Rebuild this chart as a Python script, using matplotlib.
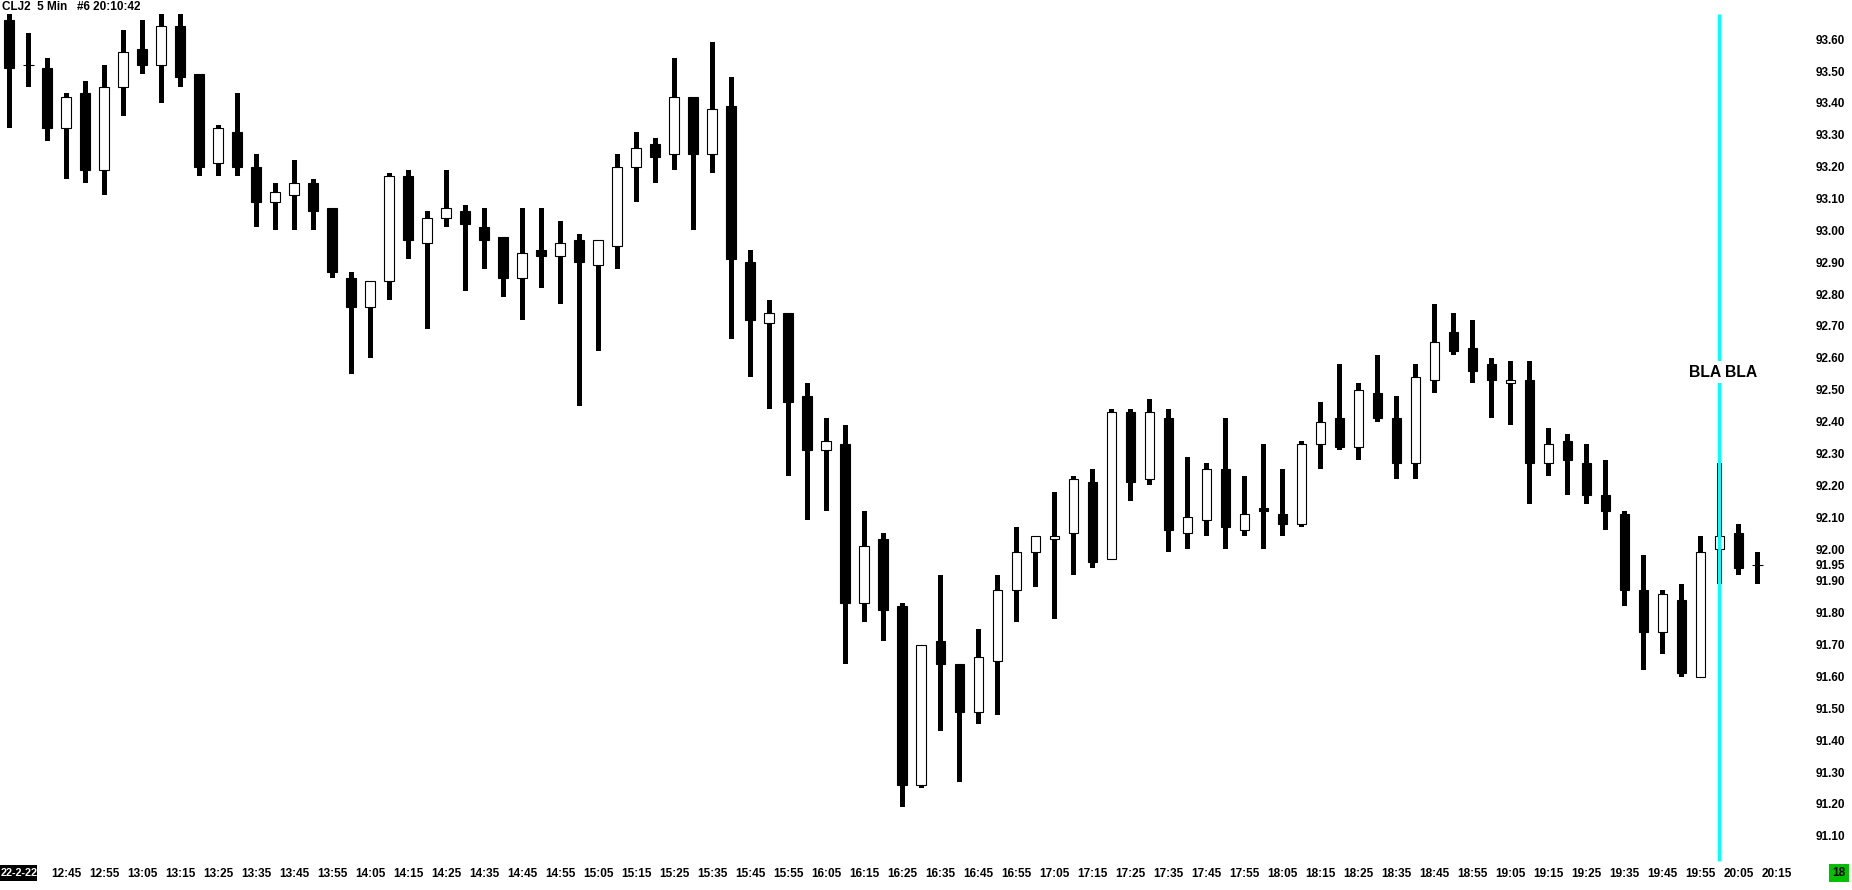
import numpy as np
import matplotlib.pyplot as plt
from matplotlib.patches import Rectangle

plt.rcParams["font.family"] = ["Liberation Sans", "DejaVu Sans"]
plt.rcParams["font.weight"] = "bold"

# CLJ2 5-minute bars, first bar at 12:30
first_bar = "12:30"
bar_minutes = 5

opens = [93.66, 93.52, 93.51, 93.32, 93.43, 93.19, 93.45, 93.57, 93.52, 93.64,
         93.49, 93.21, 93.31, 93.20, 93.09, 93.11, 93.15, 93.07, 92.85, 92.76,
         92.84, 93.17, 92.96, 93.04, 93.06, 93.01, 92.98, 92.85, 92.94, 92.92,
         92.97, 92.89, 92.95, 93.20, 93.27, 93.24, 93.42, 93.24, 93.39, 92.90,
         92.71, 92.74, 92.48, 92.31, 92.33, 91.83, 92.03, 91.82, 91.26, 91.71,
         91.64, 91.49, 91.65, 91.87, 91.99, 92.03, 92.05, 92.21, 91.97, 92.43,
         92.22, 92.41, 92.05, 92.09, 92.25, 92.06, 92.13, 92.11, 92.08, 92.33,
         92.41, 92.32, 92.49, 92.41, 92.27, 92.53, 92.68, 92.63, 92.58, 92.52,
         92.53, 92.27, 92.34, 92.27, 92.17, 92.11, 91.87, 91.74, 91.84, 91.60,
         92.00, 92.05, 91.95]
highs = [93.68, 93.62, 93.54, 93.43, 93.47, 93.52, 93.63, 93.66, 93.68, 93.68,
         93.49, 93.33, 93.43, 93.24, 93.15, 93.22, 93.16, 93.07, 92.87, 92.84,
         93.18, 93.19, 93.06, 93.19, 93.08, 93.07, 92.98, 93.07, 93.07, 93.03,
         92.99, 92.97, 93.24, 93.31, 93.29, 93.54, 93.42, 93.59, 93.48, 92.94,
         92.78, 92.74, 92.52, 92.41, 92.39, 92.12, 92.05, 91.83, 91.70, 91.92,
         91.64, 91.75, 91.92, 92.07, 92.04, 92.18, 92.23, 92.25, 92.44, 92.44,
         92.47, 92.44, 92.29, 92.27, 92.41, 92.23, 92.33, 92.25, 92.34, 92.46,
         92.58, 92.52, 92.61, 92.48, 92.58, 92.77, 92.74, 92.72, 92.60, 92.59,
         92.59, 92.38, 92.36, 92.33, 92.28, 92.12, 91.98, 91.87, 91.89, 92.04,
         92.27, 92.08, 91.99]
lows = [93.32, 93.45, 93.28, 93.16, 93.15, 93.11, 93.36, 93.49, 93.40, 93.45,
        93.17, 93.17, 93.17, 93.01, 93.00, 93.00, 93.00, 92.85, 92.55, 92.60,
        92.78, 92.91, 92.69, 93.01, 92.81, 92.88, 92.79, 92.72, 92.82, 92.77,
        92.45, 92.62, 92.88, 93.09, 93.15, 93.19, 93.00, 93.18, 92.66, 92.54,
        92.44, 92.23, 92.09, 92.12, 91.64, 91.77, 91.71, 91.19, 91.25, 91.43,
        91.27, 91.45, 91.48, 91.77, 91.88, 91.78, 91.92, 91.94, 91.97, 92.15,
        92.20, 91.99, 92.00, 92.04, 92.00, 92.04, 92.00, 92.04, 92.07, 92.25,
        92.31, 92.28, 92.40, 92.22, 92.22, 92.49, 92.61, 92.52, 92.41, 92.39,
        92.14, 92.23, 92.17, 92.14, 92.06, 91.82, 91.62, 91.67, 91.60, 91.60,
        91.89, 91.92, 91.89]
closes = [93.51, 93.52, 93.32, 93.42, 93.19, 93.45, 93.56, 93.52, 93.64, 93.48,
          93.20, 93.32, 93.20, 93.09, 93.12, 93.15, 93.06, 92.87, 92.76, 92.84,
          93.17, 92.97, 93.04, 93.07, 93.02, 92.97, 92.85, 92.93, 92.92, 92.96,
          92.90, 92.97, 93.20, 93.26, 93.23, 93.42, 93.24, 93.38, 92.91, 92.72,
          92.74, 92.46, 92.31, 92.34, 91.83, 92.01, 91.81, 91.26, 91.70, 91.64,
          91.49, 91.66, 91.87, 91.99, 92.04, 92.04, 92.22, 91.96, 92.43, 92.21,
          92.43, 92.06, 92.10, 92.25, 92.07, 92.11, 92.12, 92.08, 92.33, 92.40,
          92.32, 92.50, 92.41, 92.27, 92.54, 92.65, 92.62, 92.56, 92.53, 92.53,
          92.27, 92.33, 92.28, 92.17, 92.12, 91.87, 91.74, 91.86, 91.61, 91.99,
          92.04, 91.94, 91.95]

price_labels = ["93.60", "93.50", "93.40", "93.30", "93.20", "93.10", "93.00",
                "92.90", "92.80", "92.70", "92.60", "92.50", "92.40", "92.30",
                "92.20", "92.10", "92.00", "91.95", "91.90", "91.80", "91.70",
                "91.60", "91.50", "91.40", "91.30", "91.20", "91.10"]
time_labels = ["12:45", "12:55", "13:05", "13:15", "13:25", "13:35", "13:45",
               "13:55", "14:05", "14:15", "14:25", "14:35", "14:45", "14:55",
               "15:05", "15:15", "15:25", "15:35", "15:45", "15:55", "16:05",
               "16:15", "16:25", "16:35", "16:45", "16:55", "17:05", "17:15",
               "17:25", "17:35", "17:45", "17:55", "18:05", "18:15", "18:25",
               "18:35", "18:45", "18:55", "19:05", "19:15", "19:25", "19:35",
               "19:45", "19:55", "20:05", "20:15"]

title = "CLJ2  5 Min   #6 20:10:42"
date_label = "22-2-22"
status_label = "18"
marker_bar = 90
marker_text = "BLA BLA"
marker_top = 93.68
marker_bottom = 91.02
marker_text_price = 92.555


def to_minutes(s):
    h, m = s.split(":")
    return int(h) * 60 + int(m)


o = np.array(opens)
h = np.array(highs)
l = np.array(lows)
c = np.array(closes)
x = to_minutes(first_bar) + bar_minutes * np.arange(len(o))

fig = plt.figure(figsize=(18.52, 8.90), dpi=100)
ax = fig.add_axes([0, 0, 1, 1])
ax.set_xlim(747.55, 1234.9)
ax.set_ylim(90.930, 93.723)
for s in ax.spines.values():
    s.set_visible(False)

# wicks
ax.bar(x, h - l, bottom=l, width=1.39, color="black", linewidth=0, zorder=2)

up = c > o
down = c < o
flat = c == o
ax.bar(x[up], (c - o)[up], bottom=o[up], width=2.55, facecolor="white",
       edgecolor="black", linewidth=0.8, zorder=3)
ax.bar(x[down], (o - c)[down], bottom=c[down], width=2.55, facecolor="black",
       edgecolor="black", linewidth=0.8, zorder=3)
ax.hlines(c[flat], x[flat] - 1.45, x[flat] + 1.45, color="black", lw=0.8, zorder=3)

# marker line
ax.vlines(x[marker_bar], marker_bottom, marker_top, color="#00ffff", lw=2.4, zorder=4)
ax.text(x[marker_bar] + 0.9, marker_text_price, marker_text, ha="center", va="center",
        fontsize=11.3, fontweight="bold", zorder=5,
        bbox=dict(fc="white", ec="none", pad=2.5))

# price axis inside on the right
ax.yaxis.tick_right()
ax.set_yticks([float(v) for v in price_labels])
ax.set_yticklabels(price_labels, ha="right")
ax.tick_params(axis="y", length=0, pad=-5, labelsize=8.5)

# time axis inside at the bottom
ax.set_xticks([to_minutes(t) for t in time_labels])
ax.set_xticklabels(time_labels, va="baseline")
ax.tick_params(axis="x", length=0, pad=-9.2, labelsize=8.5)

fig.add_artist(Rectangle((0, 0), 1, 7 / 890, transform=fig.transFigure,
                         fc="#f0f0f0", ec="none", zorder=0))
fig.text(2 / 1852, 1 - 7 / 890, title, ha="left", va="center", fontsize=8.5,
         fontweight="bold")
fig.add_artist(Rectangle((0, 9 / 890), 37 / 1852, 16 / 890, transform=fig.transFigure,
                         fc="black", ec="none", zorder=1))
fig.text(1 / 1852, 17 / 890, date_label, ha="left", va="center", color="white",
         fontsize=7.8, fontweight="bold", zorder=2)
fig.text(1839 / 1852, 17 / 890, status_label, ha="center", va="center", fontsize=8.5,
         fontweight="bold", bbox=dict(fc="#00c000", ec="none", pad=2.5))

fig.savefig("out.png", dpi=100)
